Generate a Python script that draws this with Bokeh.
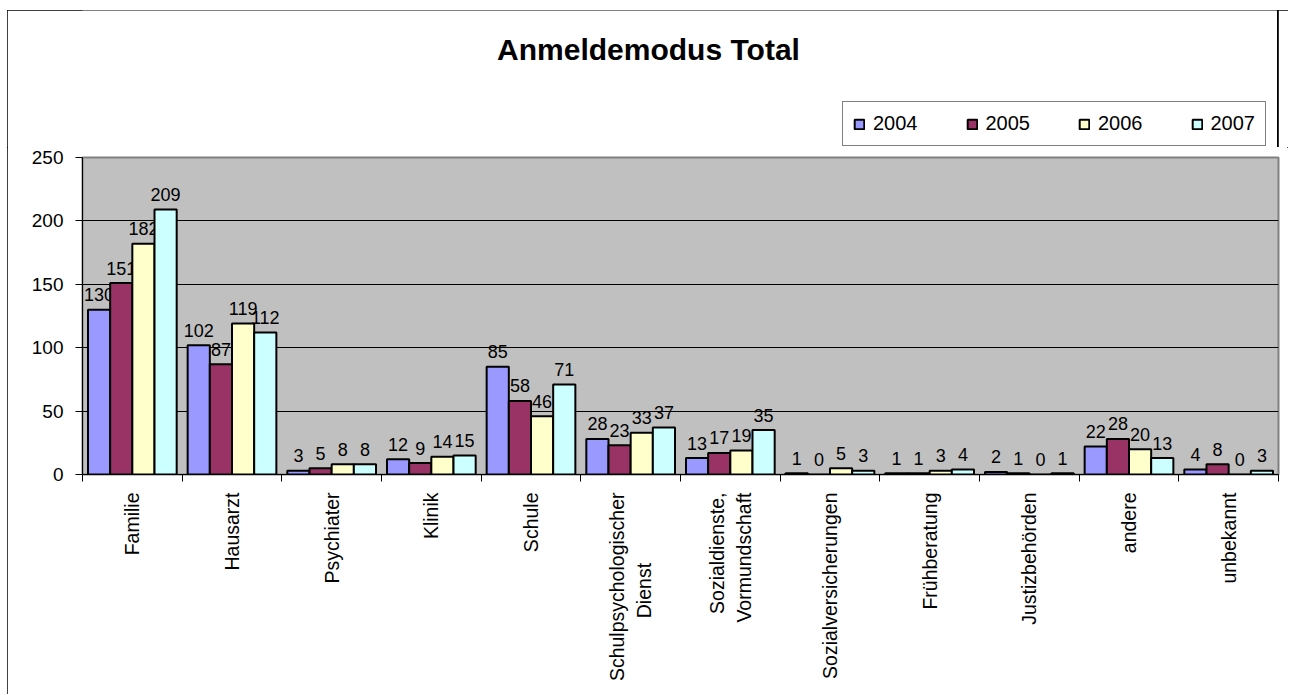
import math
from bokeh.plotting import figure
from bokeh.layouts import column
from bokeh.models import (ColumnDataSource, Range1d, FixedTicker, Legend, LegendItem, Label)
from bokeh.transform import dodge
from bokeh.core.properties import value
from bokeh.embed import file_html
from bokeh.resources import INLINE

categories = ["Familie", "Hausarzt", "Psychiater", "Klinik", "Schule",
              "Schulpsychologischer\nDienst", "Sozialdienste,\nVormundschaft",
              "Sozialversicherungen", "Frühberatung", "Justizbehörden", "andere", "unbekannt"]
years = ["2004", "2005", "2006", "2007"]
v2004 = [130, 102, 3, 12, 85, 28, 13, 1, 1, 2, 22, 4]
v2005 = [151, 87, 5, 9, 58, 23, 17, 0, 1, 1, 28, 8]
v2006 = [182, 119, 8, 14, 46, 33, 19, 5, 3, 0, 20, 0]
v2007 = [209, 112, 8, 15, 71, 37, 35, 3, 4, 1, 13, 3]
colors = ["#9999FF", "#993366", "#FFFFCC", "#CCFFFF"]
y_ticks = [0, 50, 100, 150, 200, 250]

FONT = "Liberation Sans"
n = len(categories)
series = [v2004, v2005, v2006, v2007]
data = {"idx": list(range(n))}
for y, s in zip(years, series):
    data[y] = s
    data[y + "_t"] = [str(v) for v in s]
source = ColumnDataSource(data)

# tick labels: centre the shorter line of two-line labels (lines are end-aligned)
tick_labels = {}
for i, c in enumerate(categories):
    lines = c.split("\n")
    if len(lines) == 2 and c.startswith("Schulpsych"):
        lines[1] = lines[1] + "\u00a0" * 13
    tick_labels[i] = "\n".join(lines)

W = 1281
TOP_H = 137
MAIN_H = 547
bw = 0.2225
offsets = [-1.5 * bw, -0.5 * bw, 0.5 * bw, 1.5 * bw]

# ---- header: title + legend (its frame is aligned with the chart frame) ----
head = figure(width=W, height=TOP_H, x_range=Range1d(-100, -99), y_range=Range1d(0, 1),
              output_backend="svg", toolbar_location=None,
              x_axis_location=None, y_axis_location=None,
              min_border_left=0, min_border_right=0, min_border_top=0, min_border_bottom=0)
head.grid.visible = False
head.outline_line_color = None
head.background_fill_color = "white"
head.border_fill_color = "white"

head.add_layout(Label(x=566, y=98, x_units="screen", y_units="screen", text="Anmeldemodus Total",
                      text_align="center", text_baseline="alphabetic", text_font=FONT,
                      text_font_size="30px", text_font_style="bold", text_color="black"))

# legend proxies: same series, outside the header's visible range
leg_renderers = [head.vbar(x=dodge("idx", off), top=y, width=bw, source=source, fill_color=c,
                           line_color="black", line_width=2)
                 for y, off, c in zip(years, offsets, colors)]
legend = Legend(items=[LegendItem(label=y, renderers=[r]) for y, r in zip(years, leg_renderers)],
                orientation="horizontal", location=(760, 1),
                glyph_width=12, glyph_height=12, label_standoff=8, spacing=48, padding=10,
                label_text_font=FONT, label_text_font_size="20px", label_text_color="black",
                border_line_color="black", border_line_width=1,
                background_fill_color="white", background_fill_alpha=1)
head.add_layout(legend)

# ---- main chart ----
p = figure(width=W, height=MAIN_H, x_range=Range1d(-0.5, n - 0.5), y_range=Range1d(0, 250),
           output_backend="svg", toolbar_location=None,
           min_border_left=75, min_border_right=10, min_border_top=10, min_border_bottom=220)
p.background_fill_color = "#C0C0C0"
p.border_fill_color = "white"
p.outline_line_color = "#808080"
p.outline_line_width = 2

p.xgrid.visible = False
p.ygrid.ticker = FixedTicker(ticks=[50, 100, 150, 200])
p.ygrid.grid_line_color = "black"
p.ygrid.grid_line_width = 1

ya = p.yaxis[0]
ya.ticker = FixedTicker(ticks=y_ticks)
ya.major_tick_out = 7
ya.major_tick_in = 0
ya.minor_tick_line_color = None
ya.axis_line_color = "black"
ya.major_label_standoff = 12
ya.major_label_text_font = FONT
ya.major_label_text_font_size = "19px"
ya.major_label_text_color = "black"

xa = p.xaxis[0]
xa.ticker = FixedTicker(ticks=list(range(n)), minor_ticks=[i - 0.5 for i in range(n + 1)])
xa.major_label_overrides = tick_labels
xa.major_tick_out = 0
xa.major_tick_in = 0
xa.minor_tick_out = 7
xa.minor_tick_in = 0
xa.minor_tick_line_color = "black"
xa.axis_line_color = "black"
xa.major_label_orientation = math.pi / 2
xa.major_label_standoff = 11
xa.major_label_text_font = FONT
xa.major_label_text_font_size = "19.5px"
xa.major_label_text_color = "black"

for y, off, col in zip(years, offsets, colors):
    p.vbar(x=dodge("idx", off), top=y, width=bw, source=source,
           fill_color=col, line_color="black", line_width=2)
    p.text(x=dodge("idx", off), y=y, text=y + "_t", source=source,
           text_align="center", text_baseline="alphabetic", y_offset=-15,
           text_font=value(FONT), text_font_size="18px", text_color="black")

layout = column(head, p, spacing=0, width=W, height=TOP_H + MAIN_H)
layout.styles = {"outline": "1px solid black", "outline-offset": "-1px",
                 "margin-left": "7px", "margin-top": "10px"}

open("out.html", "w").write(file_html(layout, INLINE))
